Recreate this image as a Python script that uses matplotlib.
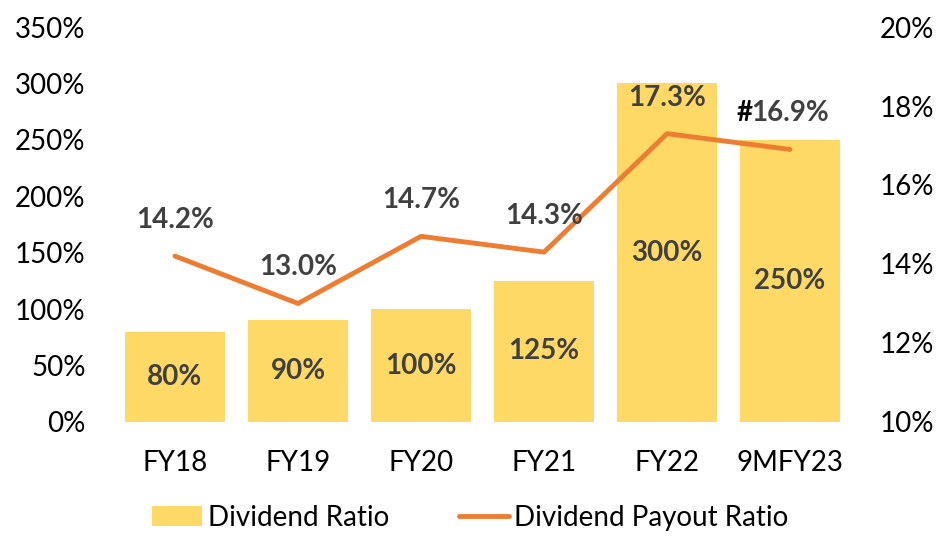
import matplotlib.pyplot as plt

plt.rcParams['font.family'] = ['Lato', 'DejaVu Sans']

anos = ['FY18', 'FY19', 'FY20', 'FY21', 'FY22', '9MFY23']
dividend_ratio = [80, 90, 100, 125, 300, 250]
payout_ratio = [14.2, 13.0, 14.7, 14.3, 17.3, 16.9]
payout_labels = ['14.2%', '13.0%', '14.7%', '14.3%', '17.3%', '16.9%']

amarelo = '#FFD966'
laranja = '#ED7D31'
cinza = '#404040'

fig = plt.figure(figsize=(9.41, 5.37), dpi=100)
ax = fig.add_axes([0.1206, 0.2142, 0.7844, 0.7355])
ax2 = ax.twinx()

x = range(len(anos))
ax.bar(x, dividend_ratio, width=0.81, color=amarelo, label='Dividend Ratio')
for i, v in zip(x, dividend_ratio):
    ax.text(i, v / 2, f'{v}%', ha='center', va='center', fontsize=20,
            fontweight='bold', color=cinza)

ax.set_xlim(-0.5, len(anos) - 0.5)
ax.set_ylim(0, 350)
ax.set_yticks(range(0, 351, 50))
ax.set_yticklabels([f'{t}%' for t in range(0, 351, 50)])
ax.set_xticks(list(x))
ax.set_xticklabels(anos)

ax2.plot(list(x), payout_ratio, color=laranja, linewidth=3.5, solid_capstyle='round',
         label='Dividend Payout Ratio')
ax2.set_ylim(10, 20)
ax2.set_yticks(range(10, 21, 2))
ax2.set_yticklabels([f'{t}%' for t in range(10, 21, 2)])
for i, (v, s) in enumerate(zip(payout_ratio, payout_labels)):
    ax2.annotate(s, (i, v), xytext=(0, 26), textcoords='offset points',
                 ha='center', va='center', fontsize=20, fontweight='bold', color=cinza)
# marcador do ultimo periodo
ax2.annotate('#', (5, payout_ratio[5]), xytext=(-27, 26), textcoords='offset points',
             ha='right', va='center', fontsize=20, fontweight='bold', color='black')

for a in (ax, ax2):
    for sp in a.spines.values():
        sp.set_visible(False)
    a.tick_params(length=0, labelsize=20, colors='black')
ax.tick_params(axis='x', pad=20)
ax.tick_params(axis='y', pad=20)
ax2.tick_params(axis='y', pad=20)

h1, l1 = ax.get_legend_handles_labels()
h2, l2 = ax2.get_legend_handles_labels()
fig.legend(h1 + h2, l1 + l2, loc='center', bbox_to_anchor=(0.5, 0.036), ncol=2,
           frameon=False, fontsize=20, handlelength=1.8, handletextpad=0.2,
           columnspacing=2.5, borderpad=0.1)

plt.savefig('out.png', dpi=100)
